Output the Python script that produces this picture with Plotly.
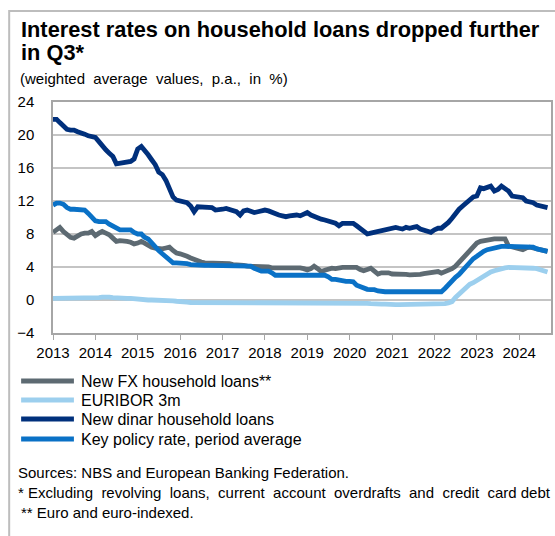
import pandas as pd
import plotly.graph_objects as go

# Monthly observations, January 2013 - September 2024 (in %)
months = pd.date_range("2013-01-01", "2024-09-01", freq="MS")

fx_loans = [
    8.2, 8.5, 8.8, 8.3, 8.0, 7.6, 7.5, 7.8, 8.0, 8.1, 8.1, 8.3,
    7.8, 8.1, 8.3, 8.1, 7.9, 7.5, 7.1, 7.2, 7.2, 7.1, 7.0, 6.8,
    6.9, 7.1, 6.9, 6.6, 6.4, 6.3, 6.2, 6.2, 6.3, 6.4, 6.0, 5.7,
    5.6, 5.5, 5.3, 5.1, 4.9, 4.8, 4.6, 4.5, 4.5, 4.5, 4.4, 4.4,
    4.4, 4.4, 4.4, 4.3, 4.3, 4.2, 4.2, 4.1, 4.1, 4.1, 4.0, 4.0,
    4.0, 4.0, 3.9, 3.9, 3.9, 3.95, 3.95, 3.95, 3.95, 3.95, 3.9, 3.8,
    3.65, 3.8, 4.1, 3.8, 3.45, 3.6, 3.8, 3.85, 3.8, 3.9, 3.95, 3.95,
    3.95, 3.9, 3.95, 3.7, 3.55, 3.7, 3.85, 3.5, 3.15, 3.3, 3.3, 3.3,
    3.15, 3.1, 3.1, 3.1, 3.1, 3.05, 3.05, 3.05, 3.1, 3.2, 3.3, 3.3,
    3.35, 3.45, 3.25, 3.4, 3.6, 3.8, 4.1, 4.6, 5.05, 5.6, 6.1, 6.5,
    6.9, 7.1, 7.2, 7.3, 7.4, 7.4, 7.4, 7.4, 7.4, 6.55, 6.4, 6.3,
    6.2, 6.1, 6.3, 6.4, 6.3, 6.2, 6.1, 6.0, 5.9,
]

euribor_3m = [
    0.2, 0.2, 0.2, 0.2, 0.2, 0.2, 0.2, 0.2, 0.2, 0.2, 0.2, 0.25,
    0.25, 0.3, 0.35, 0.4, 0.35, 0.3, 0.25, 0.2, 0.2, 0.2, 0.2, 0.15,
    0.05, 0.05, 0.03, 0.0, 0.0, 0.0, 0.0, 0.0, -0.03, -0.05, -0.1, -0.15,
    -0.15, -0.2, -0.25, -0.3, -0.3, -0.3, -0.3, -0.3, -0.3, -0.3, -0.3, -0.3,
    -0.33, -0.33, -0.33, -0.33, -0.33, -0.33, -0.33, -0.33, -0.33, -0.33, -0.33, -0.33,
    -0.33, -0.33, -0.33, -0.33, -0.33, -0.33, -0.33, -0.33, -0.33, -0.33, -0.33, -0.33,
    -0.33, -0.33, -0.33, -0.33, -0.33, -0.35, -0.37, -0.4, -0.4, -0.4, -0.4, -0.4,
    -0.4, -0.4, -0.4, -0.3, -0.3, -0.4, -0.45, -0.5, -0.5, -0.5, -0.5, -0.55,
    -0.55, -0.55, -0.55, -0.55, -0.55, -0.55, -0.55, -0.55, -0.55, -0.55, -0.55, -0.55,
    -0.55, -0.55, -0.5, -0.45, -0.35, -0.2, 0.3, 0.7, 1.2, 1.6, 1.9, 2.1,
    2.4, 2.6, 2.9, 3.2, 3.4, 3.55, 3.7, 3.8, 3.9, 3.95, 3.95, 3.95,
    3.9, 3.9, 3.9, 3.9, 3.85, 3.8, 3.7, 3.55, 3.4,
]

dinar_loans = [
    21.9, 21.9, 21.5, 21.0, 20.7, 20.6, 20.6, 20.4, 20.3, 20.1, 19.9, 19.8,
    19.7, 19.2, 18.6, 18.2, 17.8, 17.4, 16.5, 16.6, 16.7, 16.7, 16.8, 17.1,
    18.3, 18.6, 18.0, 17.6, 17.0, 16.4, 15.5, 15.2, 14.5, 13.6, 12.5, 12.1,
    12.0, 11.9, 11.8, 11.4, 10.7, 11.3, 11.3, 11.3, 11.3, 11.2, 10.9, 10.9,
    11.0, 11.1, 11.0, 10.8, 10.7, 10.3, 10.8, 10.9, 10.7, 10.6, 10.7, 10.8,
    10.9, 10.8, 10.6, 10.5, 10.3, 10.2, 10.1, 10.2, 10.3, 10.3, 10.2, 10.4,
    10.6, 10.3, 10.1, 10.0, 9.8, 9.7, 9.6, 9.5, 9.3, 9.0, 9.3, 9.3,
    9.3, 9.3, 9.0, 8.6, 8.3, 8.0, 8.1, 8.2, 8.3, 8.4, 8.5, 8.6,
    8.6, 8.8, 8.7, 8.6, 8.8, 8.7, 8.8, 8.9, 8.6, 8.5, 8.3, 8.2,
    8.5, 8.7, 8.7, 9.0, 9.4, 9.9, 10.5, 11.0, 11.4, 11.8, 12.1, 12.5,
    12.6, 13.6, 13.5, 13.6, 13.8, 13.2, 13.4, 13.8, 13.5, 13.2, 12.6, 12.5,
    12.5, 12.4, 12.0, 11.9, 11.8, 11.5, 11.4, 11.3, 11.2,
]

key_policy_rate = [
    11.5, 11.75, 11.75, 11.6, 11.2, 11.0, 11.0, 11.0, 11.0, 10.9, 10.5, 10.0,
    9.6, 9.5, 9.5, 9.5, 9.2, 9.0, 8.7, 8.5, 8.5, 8.5, 8.5, 8.2,
    8.0, 8.0, 7.6, 7.4, 6.9, 6.4, 6.0, 5.6, 5.2, 4.8, 4.5, 4.5,
    4.5, 4.5, 4.4, 4.3, 4.25, 4.25, 4.2, 4.2, 4.2, 4.2, 4.2, 4.2,
    4.2, 4.2, 4.2, 4.2, 4.2, 4.2, 4.2, 4.2, 4.1, 3.85, 3.6, 3.5,
    3.5, 3.5, 3.3, 3.0, 3.0, 3.0, 3.0, 3.0, 3.0, 3.0, 3.0, 3.0,
    3.0, 3.0, 3.0, 3.0, 3.0, 3.0, 2.8, 2.5, 2.5, 2.4, 2.3, 2.25,
    2.25, 2.2, 1.8, 1.6, 1.5, 1.3, 1.25, 1.25, 1.1, 1.0, 1.0, 1.0,
    1.0, 1.0, 1.0, 1.0, 1.0, 1.0, 1.0, 1.0, 1.0, 1.0, 1.0, 1.0,
    1.0, 1.0, 1.0, 1.4, 1.9, 2.4, 2.75, 3.1, 3.6, 4.0, 4.5, 5.0,
    5.3, 5.7, 5.9, 6.1, 6.2, 6.4, 6.5, 6.5, 6.5, 6.5, 6.5, 6.5,
    6.5, 6.5, 6.5, 6.5, 6.4, 6.2, 6.1, 6.0, 5.9,
]

series_names = [
    "New FX household loans**",
    "EURIBOR 3m",
    "New dinar household loans",
    "Key policy rate, period average",
]
series_values = [fx_loans, euribor_3m, dinar_loans, key_policy_rate]
series_colors = ["#5d6a72", "#9ccfee", "#00307c", "#0a71c6"]

year_ticks = list(range(2013, 2025))
y_ticks = list(range(-4, 25, 4))

NB = "\u00a0"
title_line1 = "Interest rates on household loans dropped further"
title_line2 = "in Q3*"
subtitle = f"(weighted {NB}average {NB}values, {NB}p.a., {NB}in {NB}%)"
notes = [
    "Sources: NBS and European Banking Federation.",
    f"* Excluding {NB}revolving {NB}loans, {NB}current {NB}account {NB}overdrafts {NB}and {NB}credit {NB}card debt",
    "** Euro and euro-indexed.",
]

# Page geometry (pixels)
W, H = 555, 536
L, R, T, B = 53, 2, 102, 203
PW, PH = W - L - R, H - T - B


def px_x(px):
    return (px - L) / PW


def px_y(py):
    return (H - B - py) / PH


FONT = "Liberation Sans, Arial, sans-serif"

fig = go.Figure()
for name, vals, col in zip(series_names, series_values, series_colors):
    fig.add_trace(go.Scatter(
        x=months, y=vals, name=name, mode="lines",
        line=dict(color=col, width=4.8),
        showlegend=False, hoverinfo="skip",
    ))

shapes = [
    # outer frame
    dict(type="rect", xref="paper", yref="paper",
         x0=px_x(9), x1=px_x(700), y0=px_y(700), y1=px_y(11),
         line=dict(color="#bdbdbd", width=2), fillcolor="rgba(0,0,0,0)"),
]
annotations = [
    dict(text=f"<b>{title_line1}</b>", x=px_x(19), y=px_y(30), xref="paper", yref="paper",
         xanchor="left", yanchor="middle", showarrow=False,
         font=dict(family=FONT, size=21.8, color="#000000")),
    dict(text=f"<b>{title_line2}</b>", x=px_x(19), y=px_y(53), xref="paper", yref="paper",
         xanchor="left", yanchor="middle", showarrow=False,
         font=dict(family=FONT, size=21.8, color="#000000")),
    dict(text=subtitle, x=px_x(18), y=px_y(78), xref="paper", yref="paper",
         xanchor="left", yanchor="middle", showarrow=False,
         font=dict(family=FONT, size=15, color="#000000")),
]

# legend keys drawn beneath the axis
legend_rows = [381, 400, 419, 439]
for name, col, ry in zip(series_names, series_colors, legend_rows):
    shapes.append(dict(type="line", xref="paper", yref="paper",
                       x0=px_x(21), x1=px_x(74), y0=px_y(ry), y1=px_y(ry),
                       line=dict(color=col, width=5)))
    annotations.append(dict(text=name, x=px_x(79), y=px_y(ry), xref="paper", yref="paper",
                            xanchor="left", yanchor="middle", showarrow=False,
                            font=dict(family=FONT, size=16, color="#000000")))

for note, ny, nx in zip(notes, [472, 492, 512], [16, 16, 19]):
    annotations.append(dict(text=note, x=px_x(nx), y=px_y(ny), xref="paper", yref="paper",
                            xanchor="left", yanchor="middle", showarrow=False,
                            font=dict(family=FONT, size=15, color="#000000")))

fig.update_layout(
    width=W, height=H,
    margin=dict(l=L, r=R, t=T, b=B, pad=0),
    paper_bgcolor="white", plot_bgcolor="white",
    font=dict(family=FONT, size=15, color="#000000"),
    shapes=shapes, annotations=annotations,
    showlegend=False,
)
fig.update_xaxes(
    type="date",
    range=["2013-01-01", "2024-10-01"],
    tickvals=[pd.Timestamp(f"{y}-01-01") for y in year_ticks],
    ticktext=[str(y) for y in year_ticks],
    ticks="outside", ticklen=5, tickcolor="#a6a6a6", tickwidth=1,
    showline=True, linecolor="#a6a6a6", linewidth=1.5, mirror=True,
    showgrid=False, zeroline=False,
    tickfont=dict(family=FONT, size=15, color="#000000"),
)
fig.update_yaxes(
    range=[-4, 24], tickvals=y_ticks,
    showgrid=True, gridcolor="#c4c4c4", gridwidth=1.5,
    showline=True, linecolor="#a6a6a6", linewidth=1.5, mirror=True,
    zeroline=False, ticks="", ticklabelstandoff=14,
    tickfont=dict(family=FONT, size=15, color="#000000"),
)

fig.write_html("out.html")
